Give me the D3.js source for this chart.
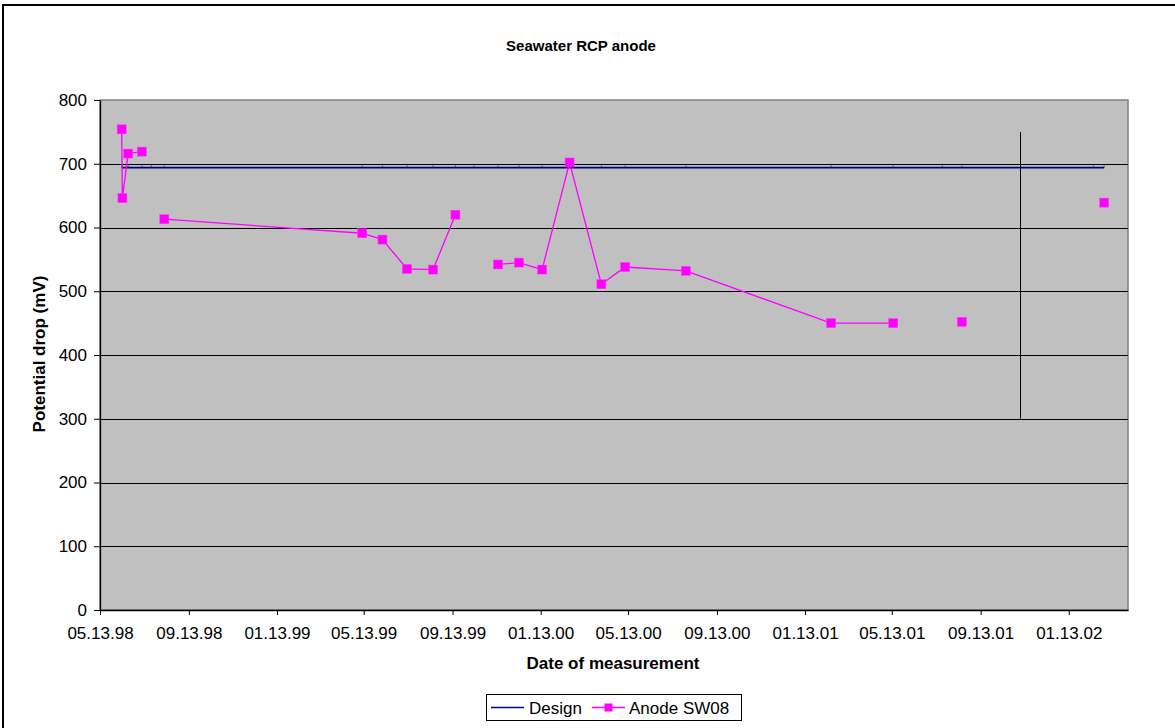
<!DOCTYPE html>
<html>
<head>
<meta charset="utf-8">
<script src="https://cdn.jsdelivr.net/npm/d3@7"></script>
<style>
  body { margin: 0; background: #fff; }
  text { font-family: "Liberation Sans", Arial, sans-serif; fill: #000; }
</style>
</head>
<body>
<svg id="chart" width="1175" height="728"></svg>
<script>
const width = 1175;
const height = 728;

// measurement dates (the design series has a point on each one)
const dates = [
  "1998-06-12", "1998-06-13", "1998-06-21", "1998-07-10", "1998-07-23", "1998-08-10",
  "1999-05-11", "1999-06-08", "1999-07-12", "1999-08-17", "1999-09-17", "1999-10-13",
  "1999-11-15", "1999-12-14", "2000-01-15", "2000-02-22", "2000-04-06", "2000-05-09",
  "2000-08-01", "2001-02-18", "2001-05-15", "2001-07-22", "2001-08-18", "2002-02-16",
  "2002-03-03"
];
const design = [694, 694, 694, 694, 694, 694, 694, 694, 694, 694, 694, 694, 694,
                694, 694, 694, 694, 694, 694, 694, 694, 694, 694, 694, 694];
// empty cells in the sheet -> null -> gap in the line
const anode = [754, 646, 716, 719, null, 613, 591, 581, 535, 534, 620, null, 542,
               545, 534, 702, 511, 538, 532, 450, 450, null, 452, null, 639];

// the vertical marker line
const markerDate = "2001-11-06";
const markerRange = [300, 750];

const xTicks = ["1998-05-13", "1998-09-13", "1999-01-13", "1999-05-13", "1999-09-13",
  "2000-01-13", "2000-05-13", "2000-09-13", "2001-01-13", "2001-05-13", "2001-09-13",
  "2002-01-13"];
const xDomain = ["1998-05-13", "2002-04-05"];
const yTicks = [0, 100, 200, 300, 400, 500, 600, 700, 800];

const parse = d3.utcParse("%Y-%m-%d");
const fmt = d3.utcFormat("%m.%d.%y");

const rows = dates.map((d, i) => ({date: parse(d), design: design[i], anode: anode[i]}));

const plot = {left: 100, right: 1128, top: 100, bottom: 610};

const x = d3.scaleUtc()
  .domain(xDomain.map(parse))
  .range([plot.left, plot.right]);

const y = d3.scaleLinear()
  .domain([0, 800])
  .range([plot.bottom, plot.top]);

const svg = d3.select("#chart");

// outer chart border (runs off the right/bottom of the picture)
svg.append("rect")
  .attr("x", 3).attr("y", 5)
  .attr("width", 1185).attr("height", 740)
  .attr("fill", "#fff")
  .attr("stroke", "#000")
  .attr("stroke-width", 2);

// plot area
svg.append("rect")
  .attr("x", plot.left).attr("y", plot.top)
  .attr("width", plot.right - plot.left)
  .attr("height", plot.bottom - plot.top)
  .attr("fill", "#c0c0c0")
  .attr("stroke", "#808080")
  .attr("stroke-width", 1.5);

// horizontal gridlines
svg.append("g")
  .selectAll("line")
  .data(yTicks.filter(v => v > 0 && v < 800))
  .join("line")
    .attr("x1", plot.left).attr("x2", plot.right)
    .attr("y1", d => Math.round(y(d)) + 0.5)
    .attr("y2", d => Math.round(y(d)) + 0.5)
    .attr("stroke", "#000")
    .attr("stroke-width", 1);

// axes
const yAxis = svg.append("g")
  .attr("transform", `translate(${plot.left},0)`)
  .call(d3.axisLeft(y).tickValues(yTicks).tickSize(6).tickPadding(7).tickSizeOuter(0));

const xAxis = svg.append("g")
  .attr("transform", `translate(0,${plot.bottom})`)
  .call(d3.axisBottom(x).tickValues(xTicks.map(parse)).tickFormat(fmt)
    .tickSize(5).tickPadding(12).tickSizeOuter(0));

[yAxis, xAxis].forEach(g => {
  g.selectAll("text")
    .attr("font-family", "Liberation Sans, Arial, sans-serif")
    .attr("font-size", 17)
    .attr("fill", "#000");
  g.selectAll("line").attr("stroke", "#000");
  g.select(".domain").attr("stroke", "#000").attr("stroke-width", 1.3);
});

// design line
const designLine = d3.line()
  .x(d => x(d.date))
  .y(d => y(d.design));

svg.append("path")
  .datum(rows)
  .attr("d", designLine)
  .attr("fill", "none")
  .attr("stroke", "#000080")
  .attr("stroke-width", 1.6);

// tiny dash markers of the design series
svg.append("g")
  .selectAll("line")
  .data(rows)
  .join("line")
    .attr("x1", d => x(d.date)).attr("x2", d => x(d.date))
    .attr("y1", d => y(d.design) - 2).attr("y2", d => y(d.design))
    .attr("stroke", "#202080")
    .attr("stroke-width", 0.8);

// vertical marker line
svg.append("line")
  .attr("x1", Math.round(x(parse(markerDate))) + 0.5)
  .attr("x2", Math.round(x(parse(markerDate))) + 0.5)
  .attr("y1", y(markerRange[1]))
  .attr("y2", y(markerRange[0]))
  .attr("stroke", "#000")
  .attr("stroke-width", 1);

// anode series, gaps where the cell is empty
const anodeLine = d3.line()
  .defined(d => d.anode != null)
  .x(d => x(d.date))
  .y(d => y(d.anode));

svg.append("path")
  .datum(rows)
  .attr("d", anodeLine)
  .attr("fill", "none")
  .attr("stroke", "#ff00ff")
  .attr("stroke-width", 1.3);

const ms = 9;
svg.append("g")
  .selectAll("rect")
  .data(rows.filter(d => d.anode != null))
  .join("rect")
    .attr("x", d => x(d.date) - ms / 2)
    .attr("y", d => y(d.anode) - ms / 2)
    .attr("width", ms).attr("height", ms)
    .attr("fill", "#ff00ff")
    .attr("stroke", "#ff33ff")
    .attr("stroke-width", 0.5);

// titles
svg.append("text")
  .attr("x", 581).attr("y", 51)
  .attr("text-anchor", "middle")
  .attr("font-size", 15).attr("font-weight", "bold")
  .text("Seawater RCP anode");

svg.append("text")
  .attr("x", 613).attr("y", 669)
  .attr("text-anchor", "middle")
  .attr("font-size", 17).attr("font-weight", "bold")
  .text("Date of measurement");

svg.append("text")
  .attr("transform", "translate(45,354) rotate(-90)")
  .attr("text-anchor", "middle")
  .attr("font-size", 17).attr("font-weight", "bold")
  .text("Potential drop (mV)");

// legend
const legend = svg.append("g").attr("transform", "translate(486,694)");
legend.append("rect")
  .attr("x", 0.5).attr("y", 0.5)
  .attr("width", 255).attr("height", 26)
  .attr("fill", "#fff")
  .attr("stroke", "#000");

legend.append("line")
  .attr("x1", 5).attr("x2", 38).attr("y1", 13.5).attr("y2", 13.5)
  .attr("stroke", "#000080").attr("stroke-width", 1.6);
legend.append("text")
  .attr("x", 43).attr("y", 19.5)
  .attr("font-size", 17)
  .text("Design");

legend.append("line")
  .attr("x1", 106).attr("x2", 139).attr("y1", 13.5).attr("y2", 13.5)
  .attr("stroke", "#ff00ff").attr("stroke-width", 1.3);
legend.append("rect")
  .attr("x", 122.5 - 4).attr("y", 13.5 - 4)
  .attr("width", 8).attr("height", 8)
  .attr("fill", "#ff00ff");
legend.append("text")
  .attr("x", 143).attr("y", 19.5)
  .attr("font-size", 17)
  .text("Anode SW08");
</script>
</body>
</html>
